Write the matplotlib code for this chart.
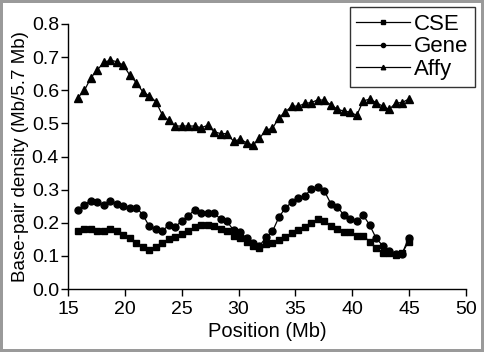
import matplotlib
matplotlib.use("Agg")
import matplotlib.pyplot as plt

positions = [15.88, 16.45, 17.02, 17.59, 18.16, 18.73, 19.30, 19.87, 20.44, 21.01,
             21.58, 22.15, 22.72, 23.29, 23.86, 24.43, 25.00, 25.57, 26.14, 26.71,
             27.28, 27.85, 28.42, 28.99, 29.56, 30.13, 30.70, 31.27, 31.84, 32.41,
             32.98, 33.55, 34.12, 34.69, 35.26, 35.83, 36.40, 36.97, 37.54, 38.11,
             38.68, 39.25, 39.82, 40.39, 40.96, 41.53, 42.10, 42.67, 43.24, 43.81,
             44.38, 44.95]

cse = [0.176, 0.181, 0.182, 0.176, 0.176, 0.182, 0.174, 0.164, 0.154, 0.138,
       0.126, 0.118, 0.128, 0.140, 0.151, 0.158, 0.167, 0.176, 0.186, 0.194,
       0.194, 0.189, 0.181, 0.174, 0.161, 0.154, 0.143, 0.131, 0.123, 0.137,
       0.138, 0.147, 0.156, 0.169, 0.178, 0.187, 0.200, 0.211, 0.205, 0.189,
       0.180, 0.171, 0.171, 0.161, 0.161, 0.143, 0.124, 0.109, 0.109, 0.104,
       0.108, 0.143]

gene = [0.239, 0.255, 0.267, 0.262, 0.255, 0.267, 0.257, 0.252, 0.246, 0.246,
        0.224, 0.189, 0.182, 0.174, 0.194, 0.187, 0.206, 0.221, 0.239, 0.229,
        0.229, 0.229, 0.211, 0.204, 0.177, 0.171, 0.154, 0.138, 0.130, 0.156,
        0.174, 0.217, 0.245, 0.262, 0.274, 0.281, 0.302, 0.309, 0.296, 0.258,
        0.249, 0.223, 0.211, 0.205, 0.223, 0.193, 0.153, 0.131, 0.116, 0.106,
        0.106, 0.154]

affy = [0.578, 0.600, 0.638, 0.662, 0.684, 0.691, 0.686, 0.676, 0.645, 0.623,
        0.595, 0.583, 0.566, 0.526, 0.509, 0.492, 0.492, 0.492, 0.492, 0.487,
        0.494, 0.475, 0.469, 0.469, 0.446, 0.452, 0.442, 0.434, 0.455, 0.480,
        0.485, 0.517, 0.535, 0.552, 0.552, 0.560, 0.563, 0.571, 0.570, 0.556,
        0.543, 0.537, 0.534, 0.524, 0.568, 0.573, 0.563, 0.552, 0.542, 0.561,
        0.563, 0.573]

x_ticks = [15, 20, 25, 30, 35, 40, 45, 50]
y_ticks = [0.0, 0.1, 0.2, 0.3, 0.4, 0.5, 0.6, 0.7, 0.8]

plt.rcParams['font.family'] = ['Liberation Sans', 'DejaVu Sans']

W, H = 484, 352
fig = plt.figure(figsize=(W / 100, H / 100), dpi=100)
fig.patch.set_facecolor('white')
fig.patch.set_edgecolor('#9a9a9a')
fig.patch.set_linewidth(4)

ax = fig.add_axes([68 / W, 1 - 289 / H, (466 - 68) / W, (289 - 24) / H])
ax.plot(positions, cse, '-s', color='black', lw=0.9, ms=4.8, label='CSE')
ax.plot(positions, gene, '-o', color='black', lw=0.9, ms=5.0, label='Gene')
ax.plot(positions, affy, '-^', color='black', lw=0.9, ms=5.4, label='Affy')

ax.set_xlim(15, 50)
ax.set_ylim(0, 0.8)
ax.set_xticks(x_ticks)
ax.set_yticks(y_ticks)
ax.set_yticklabels([f"{v:.1f}" for v in y_ticks])
for s in ['top', 'right']:
    ax.spines[s].set_visible(False)
for s in ['left', 'bottom']:
    ax.spines[s].set_linewidth(1.0)
ax.tick_params(direction='out', length=5, width=1.0, labelsize=14)
ax.tick_params(axis='x', pad=3.5)
ax.tick_params(axis='y', pad=1.5)
ax.set_xlabel('Position (Mb)', fontsize=14.5, labelpad=3)
ax.set_ylabel('Base-pair density (Mb/5.7 Mb)', fontsize=13.5, labelpad=2)

leg = fig.legend(loc='upper right', bbox_to_anchor=(475 / W, 1 - 7 / H),
                 fontsize=16, frameon=True, fancybox=False, edgecolor='black',
                 handlelength=2.4, handletextpad=0.2, labelspacing=0.08,
                 borderpad=0.3, markerscale=0.6, borderaxespad=0)
leg.get_frame().set_linewidth(1.0)

fig.savefig('out.png', dpi=100)
